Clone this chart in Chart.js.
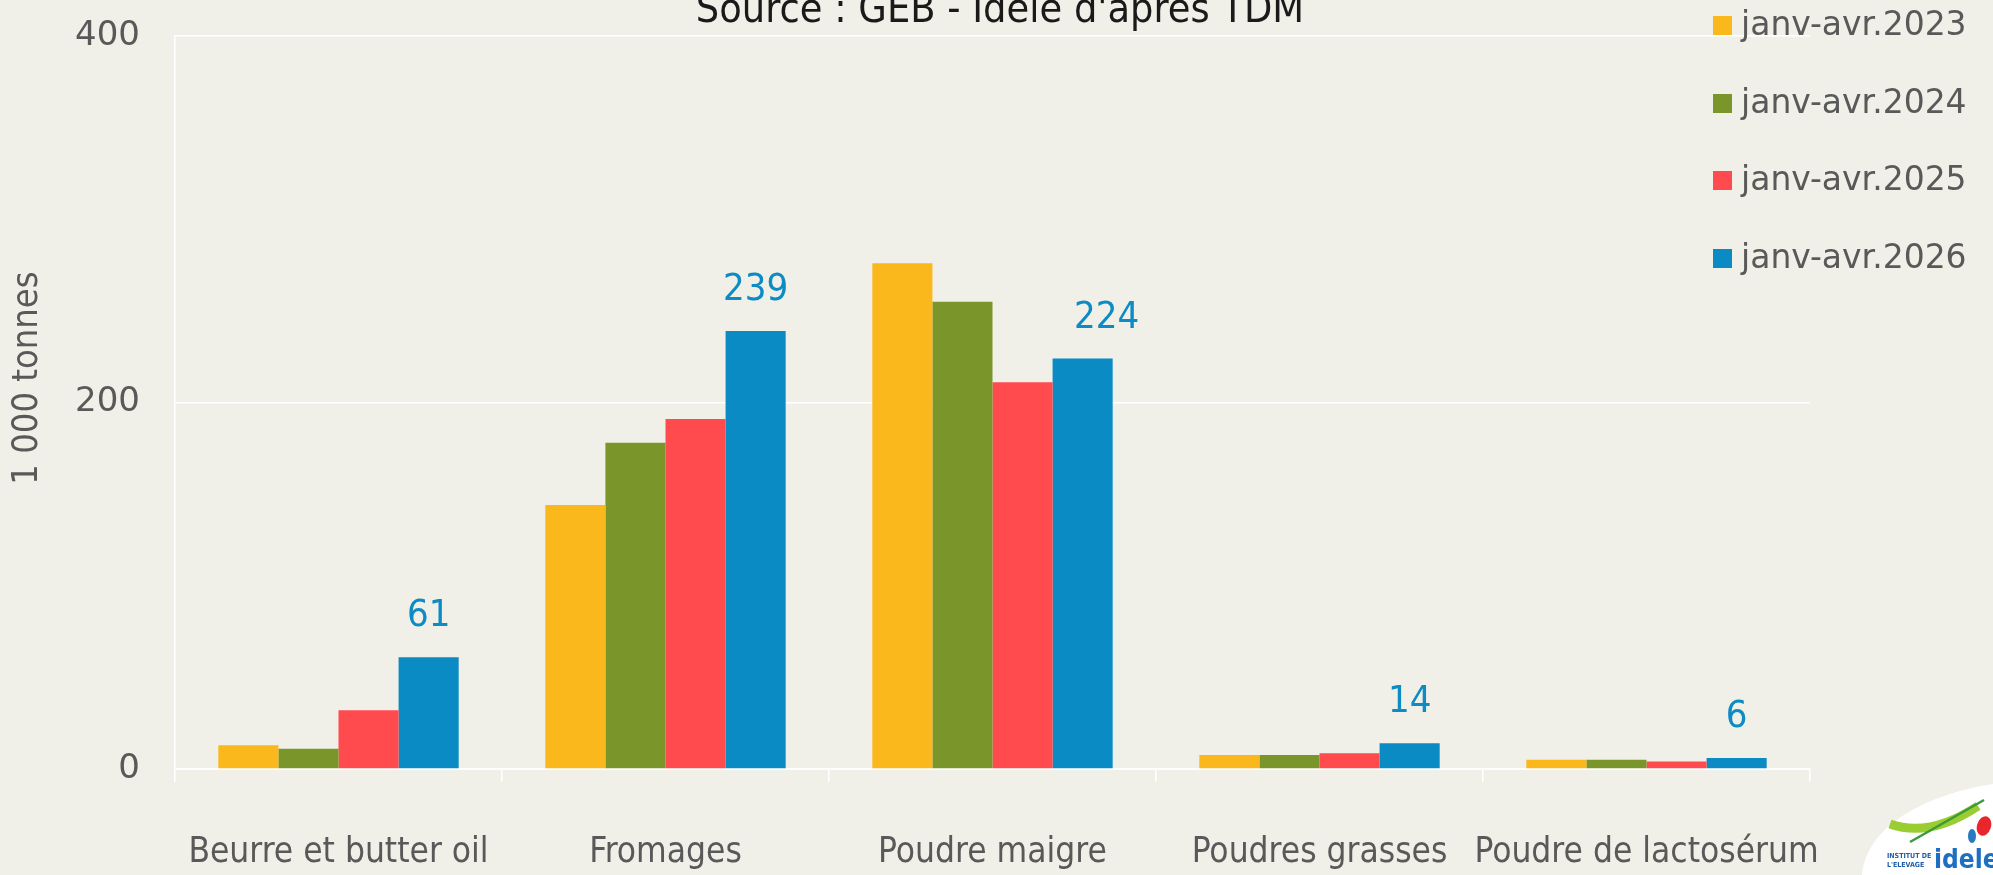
<!DOCTYPE html>
<html>
<head>
<meta charset="utf-8">
<script src="https://cdn.jsdelivr.net/npm/chart.js@4"></script>
<style>
  html, body { margin: 0; padding: 0; background: #f0f0e8; }
  #wrap { width: 1993px; height: 875px; }
</style>
</head>
<body>
<div id="wrap"><canvas id="graphique" width="1993" height="875"></canvas></div>
<script>
const categories = ['Beurre et butter oil', 'Fromages', 'Poudre maigre', 'Poudres grasses', 'Poudre de lactosérum'];
const seriesNames = ['janv-avr.2023', 'janv-avr.2024', 'janv-avr.2025', 'janv-avr.2026'];
const vals2023 = [13, 144, 276, 7.7, 5];
const vals2024 = [11, 178, 255, 7.7, 5];
const vals2025 = [32, 191, 211, 8.6, 4.1];
const vals2026 = [61, 239, 224, 14, 6];
const yTicks = [0, 200, 400];
const colors = ['#fbb81c', '#7a962b', '#ff4a4e', '#0a8bc3'];

const condensed = '"DejaVu Sans Condensed", "DejaVu Sans", sans-serif';
const grey = '#595959';
const labelShift = [0, 0, 24, 0, 0]; // l'étiquette 224 est décalée à droite

// fond, titre, axe Y, légende, étiquettes et logo
const decor = {
  id: 'decor',
  beforeDraw(chart) {
    const c = chart.ctx;
    c.save();
    c.fillStyle = '#f0f0e8';
    c.fillRect(0, 0, chart.width, chart.height);
    c.restore();
  },
  afterDraw(chart) {
    const c = chart.ctx;
    c.save();
    // titre (coupé en haut)
    c.fillStyle = '#1a1a1a';
    c.font = '41px ' + condensed;
    c.textAlign = 'center';
    c.textBaseline = 'alphabetic';
    c.fillText("Source : GEB - Idele d'après TDM", 1000, 22);

    // titre axe Y
    c.save();
    c.translate(28, 378);
    c.rotate(-Math.PI / 2);
    c.fillStyle = grey;
    c.font = '36px ' + condensed;
    c.textBaseline = 'middle';
    c.textAlign = 'center';
    c.fillText('1 000 tonnes', 0, 0);
    c.restore();

    // légende
    const rows = [25, 103, 180, 258];
    chart.data.datasets.forEach((ds, i) => {
      c.fillStyle = ds.backgroundColor;
      c.fillRect(1713, rows[i] - 9, 19, 19);
      c.fillStyle = grey;
      c.font = '33px "DejaVu Sans", sans-serif';
      c.textAlign = 'left';
      c.textBaseline = 'middle';
      c.fillText(ds.label, 1741, rows[i] + 1);
    });

    // valeurs de la dernière série
    const meta = chart.getDatasetMeta(3);
    c.fillStyle = '#0d8bc4';
    c.font = '38px ' + condensed;
    c.textAlign = 'center';
    c.textBaseline = 'alphabetic';
    meta.data.forEach((bar, j) => {
      c.fillText(String(chart.data.datasets[3].data[j]), bar.x + labelShift[j], bar.y - 31);
    });

    // logo idele
    c.fillStyle = '#ffffff';
    c.beginPath();
    c.moveTo(1862, 875);
    c.bezierCurveTo(1866, 825, 1928, 794, 1993, 784);
    c.lineTo(1993, 875);
    c.closePath();
    c.fill();
    c.strokeStyle = '#9acd32';
    c.lineWidth = 9;
    c.beginPath();
    c.moveTo(1890, 824);
    c.quadraticCurveTo(1930, 838, 1978, 806);
    c.stroke();
    c.strokeStyle = '#3c9a3c';
    c.lineWidth = 2.5;
    c.beginPath();
    c.moveTo(1910, 842);
    c.lineTo(1984, 800);
    c.stroke();
    c.fillStyle = '#e8262b';
    c.beginPath();
    c.ellipse(1984, 826, 7, 10, 0.3, 0, Math.PI * 2);
    c.fill();
    c.fillStyle = '#2a78c0';
    c.beginPath();
    c.ellipse(1972, 836, 4, 7, 0, 0, Math.PI * 2);
    c.fill();
    c.fillStyle = '#1f5fa8';
    c.font = 'bold 7px "DejaVu Sans Condensed", sans-serif';
    c.textAlign = 'left';
    c.fillText('INSTITUT DE', 1887, 858);
    c.fillText("L'ELEVAGE", 1887, 867);
    c.fillStyle = '#1d6fc2';
    c.font = 'bold 26px "DejaVu Sans Condensed", sans-serif';
    c.fillText('idele', 1934, 868);
    c.restore();
  }
};

const ctx = document.getElementById('graphique').getContext('2d');
const exportChart = new Chart(ctx, {
  type: 'bar',
  data: {
    labels: categories,
    datasets: [vals2023, vals2024, vals2025, vals2026].map((v, i) => ({
      label: seriesNames[i],
      data: v,
      backgroundColor: colors[i],
      borderWidth: 0,
      categoryPercentage: 0.735,
      barPercentage: 1
    }))
  },
  options: {
    responsive: false,
    animation: false,
    layout: { padding: { left: 0, right: 183, top: 36, bottom: 0 } },
    plugins: {
      legend: { display: false },
      title: { display: false },
      tooltip: { enabled: false }
    },
    scales: {
      x: {
        afterFit: (s) => { s.height = 106; s.paddingLeft = 0; s.paddingRight = 0; },
        grid: {
          offset: true,
          drawOnChartArea: false,
          drawTicks: true,
          tickLength: 13,
          color: '#ffffff',
          lineWidth: 1.5
        },
        border: { color: '#ffffff', width: 1.5 },
        ticks: {
          color: grey,
          padding: 50,
          maxRotation: 0,
          autoSkip: false,
          font: { family: condensed, size: 35 }
        }
      },
      y: {
        min: 0,
        max: 400,
        afterFit: (s) => { s.width = 175; s.paddingTop = 0; s.paddingBottom = 0; },
        afterBuildTicks: (s) => { s.ticks = yTicks.map(v => ({ value: v })); },
        grid: { color: '#ffffff', lineWidth: 1.5, drawTicks: false },
        border: { color: '#ffffff', width: 1.5 },
        ticks: {
          color: grey,
          padding: 35,
          font: { family: '"DejaVu Sans", sans-serif', size: 34 }
        }
      }
    }
  },
  plugins: [decor]
});
</script>
</body>
</html>
